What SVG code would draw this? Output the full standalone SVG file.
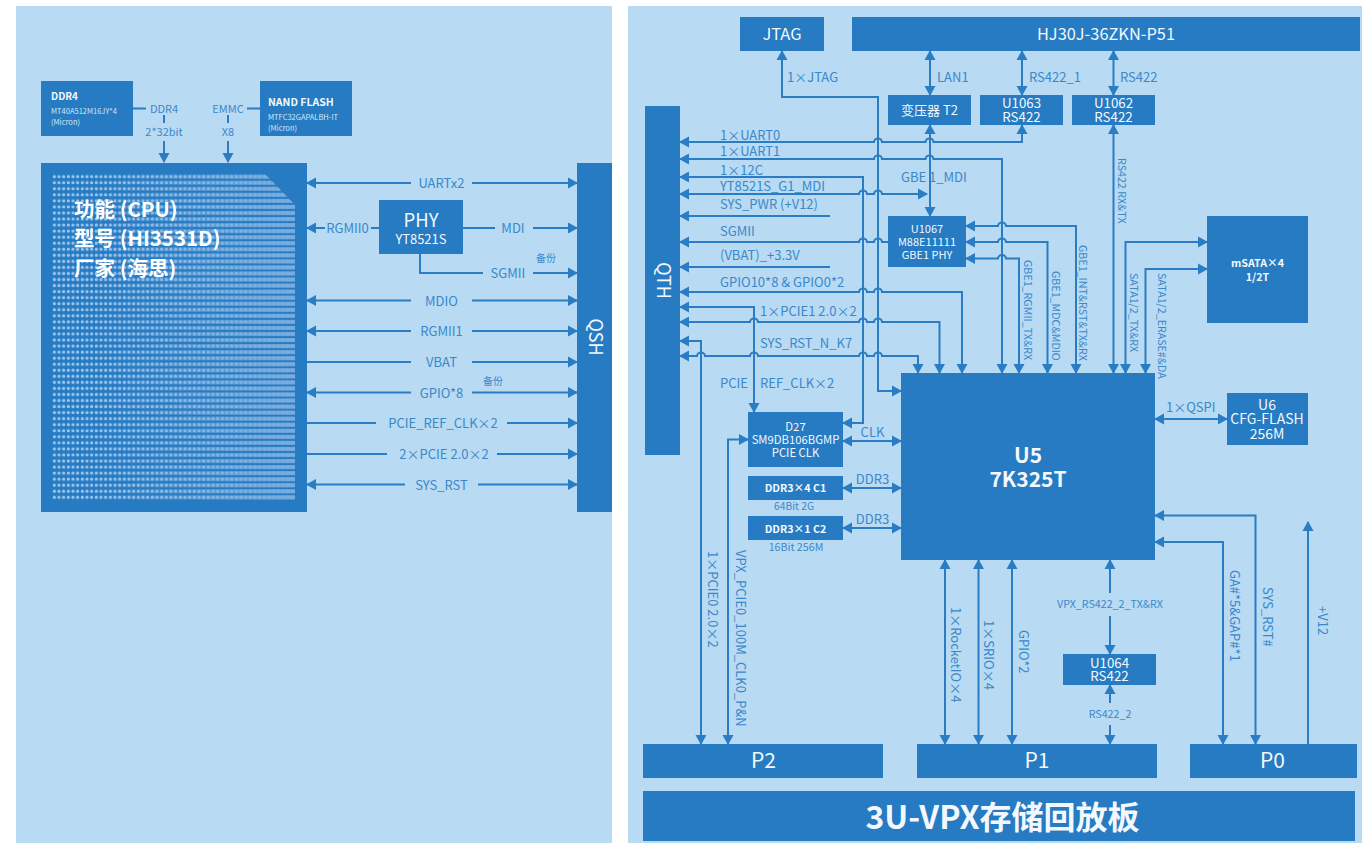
<svg xmlns="http://www.w3.org/2000/svg" width="1362" height="843" viewBox="0 0 1362 843">
<style>
text{font-family:"Noto Sans CJK SC","Noto Sans",sans-serif;font-size:13px;fill:#3b88c9}
.n{fill:#267bc2}
.p{fill:#b8daf3}
.w{fill:#f2f8fd;text-anchor:middle}
.m{text-anchor:middle}
.b{font-weight:700}
.s{font-size:10.700px}
.c{fill:none;stroke:#2a7dc5;stroke-width:2}
.e{marker-end:url(#ah)}
.f{marker-start:url(#ah)}
.d{marker-end:url(#ah);marker-start:url(#ah)}
</style>
<defs>
<marker id="ah" markerUnits="userSpaceOnUse" viewBox="0 0 10 12" refX="9" refY="6" markerWidth="10" markerHeight="12" orient="auto-start-reverse"><path d="M0 .5L10 6L0 11.500z" fill="#2a7dc5"/></marker>
<pattern id="dots" patternUnits="userSpaceOnUse" x="52" y="173.700" width="4.667" height="6.050"><circle cx="2.330" cy="3" r="1.600" fill="#98c4ec"/></pattern>
<pattern id="rows" patternUnits="userSpaceOnUse" x="52" y="173.700" width="4.667" height="6.050"><rect y="1" width="4.667" height="4" fill="#fff"/></pattern>
<linearGradient id="fade" gradientUnits="userSpaceOnUse" x1="90" y1="0" x2="290" y2="0"><stop offset="0" stop-color="#78acde" stop-opacity="0"/><stop offset="1" stop-color="#78acde" stop-opacity="1"/></linearGradient>
<mask id="rowmask" maskUnits="userSpaceOnUse" x="52" y="174" width="244" height="326"><rect x="52" y="174" width="244" height="326" fill="url(#rows)"/></mask>
<clipPath id="chip"><path d="M52 174H265L295 205V500H52z"/></clipPath>
</defs>
<rect width="1362" height="843" fill="#fff"/>
<rect class="p" x="16" y="6" width="596" height="837"/>
<rect class="p" x="628" y="6" width="734" height="837"/>

<g id="connectors">
<path class="c" d="M133 108.500H146M247 108.500H260M164 115V123M228 115V123"/>
<path class="c e" d="M164 141V162"/>
<path class="c e" d="M228 141V162"/>
<path class="c f" d="M307 183H411"/><path class="c e" d="M472 183H577"/>
<path class="c f" d="M307 228H325"/><path class="c" d="M371 228H379"/>
<path class="c" d="M463 228H495"/><path class="c e" d="M533 228H577"/>
<path class="c" d="M420 254V273H483"/><path class="c e" d="M533 273H577"/>
<path class="c f" d="M307 300.500H411"/><path class="c e" d="M472 300.500H577"/>
<path class="c f" d="M307 331H411"/><path class="c e" d="M472 331H577"/>
<path class="c" d="M307 362H411"/><path class="c e" d="M472 362H577"/>
<path class="c f" d="M307 392.500H411"/><path class="c e" d="M472 392.500H577"/>
<path class="c" d="M307 423H376"/><path class="c e" d="M507 423H577"/>
<path class="c" d="M307 454H387"/><path class="c e" d="M497 454H577"/>
<path class="c f" d="M307 484.500H405"/><path class="c e" d="M478 484.500H577"/>
<path class="c d" d="M782 51V97H878V391H901"/>
<path class="c d" d="M930 51V95"/>
<path class="c d" d="M1022 51V95"/>
<path class="c d" d="M1113.500 51V95"/>
<path class="c d" d="M930 125V216"/>
<path class="c d" d="M1113.500 125V373"/>
<path class="c d" d="M680 142H874a4 3.500 0 0 1 8 0H925.500a4 3.500 0 0 1 8 0H1022V125"/>
<path class="c d" d="M680 159H874a4 3.500 0 0 1 8 0H925.500a4 3.500 0 0 1 8 0H1002V373"/>
<path class="c d" d="M680 177H863V423H843"/>
<path class="c d" d="M680 194H859a4 3.500 0 0 1 8 0H874a4 3.500 0 0 1 8 0H927"/>
<path class="c f" d="M680 216H830"/>
<path class="c f" d="M680 242H859a4 3.500 0 0 1 8 0H874a4 3.500 0 0 1 8 0H888"/>
<path class="c f" d="M680 267H830"/>
<path class="c d" d="M680 292H859a4 3.500 0 0 1 8 0H874a4 3.500 0 0 1 8 0H962V373"/>
<path class="c d" d="M680 307H754V412"/>
<path class="c d" d="M680 322H750a4 3.500 0 0 1 8 0H859a4 3.500 0 0 1 8 0H874a4 3.500 0 0 1 8 0H939.500V373"/>
<path class="c d" d="M680 341H701V744"/>
<path class="c d" d="M680 356H697a4 3.500 0 0 1 8 0H750a4 3.500 0 0 1 8 0H859a4 3.500 0 0 1 8 0H874a4 3.500 0 0 1 8 0H918V373"/>
<path class="c d" d="M728 744V439.500H748"/>
<path class="c d" d="M843 441H901"/>
<path class="c d" d="M843 488H901"/>
<path class="c d" d="M843 528H901"/>
<path class="c d" d="M966 226H998a4 3.500 0 0 1 8 0H1076V373"/>
<path class="c d" d="M966 242H998a4 3.500 0 0 1 8 0H1047.500V373"/>
<path class="c d" d="M966 258.500H998a4 3.500 0 0 1 8 0H1019V373"/>
<path class="c d" d="M1125.500 373V242H1207"/>
<path class="c d" d="M1145.500 373V269H1207"/>
<path class="c d" d="M1155 419H1227"/>
<path class="c d" d="M945 560V744"/>
<path class="c d" d="M978.500 560V744"/>
<path class="c d" d="M1012 560V744"/>
<path class="c f" d="M1110 560V593"/><path class="c e" d="M1110 616V654"/>
<path class="c f" d="M1110 685V703"/><path class="c e" d="M1110 725V744"/>
<path class="c d" d="M1155 515.500H1255.500V744"/>
<path class="c d" d="M1155 542H1223V744"/>
<path class="c e" d="M1308 744V522"/>
</g>

<g id="n-ddr4"><rect class="n" x="41" y="81" width="92" height="55"/>
<text x="51" y="100" class="b" style="font-size:10px;fill:#f2f8fd">DDR4</text>
<text x="51" y="114" style="font-size:7.500px;fill:#d5e7f6">MT40A512M16JY*4</text>
<text x="51" y="125" style="font-size:7.500px;fill:#d5e7f6">(Micron)</text></g>
<g id="n-nand"><rect class="n" x="260" y="81" width="92" height="55"/>
<text x="268" y="106" class="b" style="font-size:10.500px;fill:#f2f8fd">NAND FLASH</text>
<text x="268" y="120" style="font-size:7.500px;fill:#d5e7f6">MTFC32GAPALBH-IT</text>
<text x="268" y="131" style="font-size:7.500px;fill:#d5e7f6">(Micron)</text></g>
<g id="n-cpu"><rect class="n" x="41" y="163" width="266" height="349"/>
<g clip-path="url(#chip)">
<rect x="52" y="174" width="244" height="326" fill="url(#dots)"/>
<rect x="52" y="174" width="244" height="326" fill="url(#fade)" mask="url(#rowmask)"/>
</g>
<text x="74" y="217" class="b" style="font-size:20.500px;fill:#fff">功能 (CPU)</text>
<text x="74" y="246" class="b" style="font-size:20.500px;fill:#fff">型号 (HI3531D)</text>
<text x="74" y="276" class="b" style="font-size:20.500px;fill:#fff">厂家 (海思)</text></g>
<g id="n-phy"><rect class="n" x="379" y="200" width="84" height="54"/>
<text x="421" y="227" class="w" style="font-size:18.500px">PHY</text>
<text x="421" y="244" class="w">YT8521S</text></g>
<g id="n-qsh"><rect class="n" x="577" y="163" width="35" height="349"/>
<text transform="translate(589 337) rotate(90)" class="w" style="font-size:18px">QSH</text></g>

<g id="n-jtag"><rect class="n" x="740" y="17" width="84" height="34"/><text x="782" y="39.500" class="w" style="font-size:16.500px">JTAG</text></g>
<g id="n-hj"><rect class="n" x="852" y="17" width="508" height="34"/><text x="1106" y="39.500" class="w" style="font-size:16.400px">HJ30J-36ZKN-P51</text></g>
<g id="n-t2"><rect class="n" x="888" y="95" width="83" height="30"/><text x="929.500" y="115" class="w">变压器 T2</text></g>
<g id="n-u1063"><rect class="n" x="980" y="95" width="83" height="30"/><text x="1021.500" y="108" class="w" style="font-size:13.300px">U1063</text><text x="1021.500" y="122" class="w" style="font-size:13.300px">RS422</text></g>
<g id="n-u1062"><rect class="n" x="1072" y="95" width="83" height="30"/><text x="1113.500" y="108" class="w" style="font-size:13.300px">U1062</text><text x="1113.500" y="122" class="w" style="font-size:13.300px">RS422</text></g>
<g id="n-qth"><rect class="n" x="645" y="106" width="35" height="349"/>
<text transform="translate(656.500 280.500) rotate(90)" class="w" style="font-size:18px">QTH</text></g>
<g id="n-u1067"><rect class="n" x="888" y="216" width="78" height="51"/>
<text x="927" y="233" class="w" style="font-size:11px">U1067</text><text x="927" y="246" class="w" style="font-size:11px">M88E11111</text><text x="927" y="259" class="w" style="font-size:11px">GBE1 PHY</text></g>
<g id="n-msata"><rect class="n" x="1207" y="216" width="101" height="107"/>
<text x="1257.500" y="267" class="w s b">mSATA×4</text><text x="1257.500" y="281" class="w s b">1/2T</text></g>
<g id="n-u5"><rect class="n" x="901" y="373" width="254" height="187"/>
<text x="1028" y="462.500" class="w b" style="font-size:21px">U5</text><text x="1028" y="487" class="w b" style="font-size:21px">7K325T</text></g>
<g id="n-u6"><rect class="n" x="1227" y="393" width="81" height="52"/>
<text x="1267" y="410" class="w" style="font-size:14px">U6</text><text x="1267" y="424" class="w" style="font-size:14px">CFG-FLASH</text><text x="1267" y="439" class="w" style="font-size:14px">256M</text></g>
<g id="n-d27"><rect class="n" x="748" y="412" width="95" height="55"/>
<text x="795.500" y="431" class="w" style="font-size:11.300px">D27</text><text x="795.500" y="444" class="w" style="font-size:11.300px">SM9DB106BGMP</text><text x="795.500" y="457" class="w" style="font-size:11.300px">PCIE CLK</text></g>
<g id="n-c1"><rect class="n" x="748" y="476" width="95" height="24"/><text x="795.500" y="492" class="w s b">DDR3×4 C1</text></g>
<g id="n-c2"><rect class="n" x="748" y="516" width="95" height="24"/><text x="795.500" y="533" class="w s b">DDR3×1 C2</text></g>
<g id="n-u1064"><rect class="n" x="1063" y="654" width="93" height="31"/><text x="1109.500" y="668" class="w" style="font-size:13.300px">U1064</text><text x="1109.500" y="681" class="w" style="font-size:13.300px">RS422</text></g>
<g id="n-p2"><rect class="n" x="643" y="744" width="240" height="34"/><text x="763.500" y="768" class="w" style="font-size:21px">P2</text></g>
<g id="n-p1"><rect class="n" x="917" y="744" width="240" height="34"/><text x="1037" y="768" class="w" style="font-size:21px">P1</text></g>
<g id="n-p0"><rect class="n" x="1190" y="744" width="167" height="34"/><text x="1272.500" y="768" class="w" style="font-size:21px">P0</text></g>
<g id="n-title"><rect class="n" x="643" y="791" width="712" height="50"/><text x="1002.500" y="829" class="w b" style="font-size:32px">3U-VPX存储回放板</text></g>

<g id="labels">
<text x="164" y="113" class="m" style="font-size:11px">DDR4</text>
<text x="164" y="136" class="m" style="font-size:11px">2*32bit</text>
<text x="228" y="113" class="m" style="font-size:11px">EMMC</text>
<text x="228" y="136" class="m" style="font-size:11px">X8</text>
<text x="441.500" y="187.500" class="m">UARTx2</text>
<text x="347.500" y="232.500" class="m">RGMII0</text>
<text x="513" y="233" class="m">MDI</text>
<text x="508" y="278" class="m">SGMII</text>
<text x="546" y="262" class="m" style="font-size:10px">备份</text>
<text x="441.500" y="305.500" class="m">MDIO</text>
<text x="441.500" y="336" class="m">RGMII1</text>
<text x="441.500" y="367" class="m">VBAT</text>
<text x="441.500" y="397.500" class="m">GPIO*8</text>
<text x="493" y="385" class="m" style="font-size:10px">备份</text>
<text x="443" y="428" class="m">PCIE_REF_CLK×2</text>
<text x="444" y="459" class="m">2×PCIE 2.0×2</text>
<text x="441.500" y="489.500" class="m">SYS_RST</text>

<text x="787" y="82">1×JTAG</text>
<text x="937" y="82">LAN1</text>
<text x="1029" y="82">RS422_1</text>
<text x="1120" y="82">RS422</text>
<text x="720" y="139.500">1×UART0</text>
<text x="720" y="156">1×UART1</text>
<text x="720" y="175">1×12C</text>
<text x="720" y="191">YT8521S_G1_MDI</text>
<text x="720" y="209">SYS_PWR (+V12)</text>
<text x="901" y="182">GBE 1_MDI</text>
<text x="720" y="236">SGMII</text>
<text x="720" y="260">(VBAT)_+3.3V</text>
<text x="720" y="287">GPIO10*8 &amp; GPIO0*2</text>
<text x="760" y="316">1×PCIE1 2.0×2</text>
<text x="760" y="348">SYS_RST_N_K7</text>
<text x="720" y="388">PCIE</text>
<text x="760" y="388">REF_CLK×2</text>
<text x="872.500" y="437" class="m">CLK</text>
<text x="872.500" y="484" class="m">DDR3</text>
<text x="872.500" y="524" class="m">DDR3</text>
<text x="794" y="510" class="m" style="font-size:10.300px">64Bit 2G</text>
<text x="796" y="551" class="m" style="font-size:10.700px">16Bit 256M</text>
<text x="1166" y="412">1×QSPI</text>
<text x="1110" y="608" class="m s">VPX_RS422_2_TX&amp;RX</text>
<text x="1110" y="718" class="m s">RS422_2</text>
<text transform="translate(1118 158) rotate(90)" class="s">RS422 RX&amp;TX</text>
<text transform="translate(1023.500 260) rotate(90)" class="s">GBE1_RGMII_TX&amp;RX</text>
<text transform="translate(1052 271) rotate(90)" class="s">GBE1_MDC&amp;MDIO</text>
<text transform="translate(1079 245) rotate(90)" class="s">GBE1_INT&amp;RST&amp;TX&amp;RX</text>
<text transform="translate(1130 273) rotate(90)" class="s">SATA1/2_TX&amp;RX</text>
<text transform="translate(1158 273) rotate(90)" class="s">SATA1/2_ERASE#&amp;DA</text>
<text transform="translate(708 551) rotate(90)">1×PCIE0 2.0×2</text>
<text transform="translate(736 550) rotate(90)">VPX_PCIE0_100M_CLK0_P&amp;N</text>
<text transform="translate(951 607) rotate(90)">1×RocketIO×4</text>
<text transform="translate(984 620) rotate(90)">1×SRIO×4</text>
<text transform="translate(1019 630) rotate(90)">GPIO*2</text>
<text transform="translate(1230 570) rotate(90)">GA#*5&amp;GAP#*1</text>
<text transform="translate(1263 587) rotate(90)">SYS_RST#</text>
<text transform="translate(1318 606) rotate(90)">+V12</text>
</g>
</svg>
